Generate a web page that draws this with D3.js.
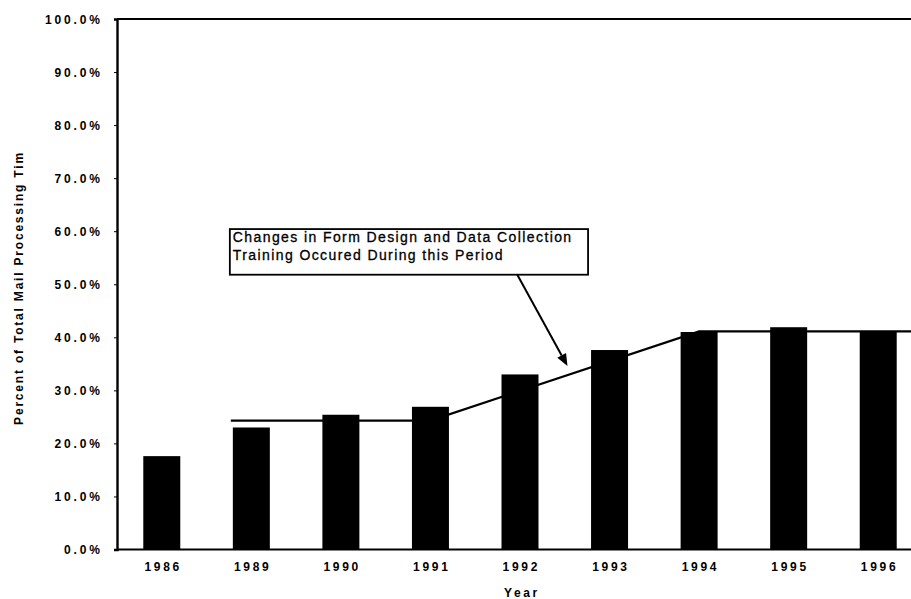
<!DOCTYPE html>
<html>
<head>
<meta charset="utf-8">
<script src="https://cdn.jsdelivr.net/npm/d3@7/dist/d3.min.js"></script>
<style>
  html, body { margin: 0; padding: 0; background: #fff; }
  svg { display: block; }
  text { font-family: "Liberation Sans", Arial, Helvetica, sans-serif; fill: #000; }
</style>
</head>
<body>
<svg id="chart" width="911" height="599"></svg>
<script>
// Share of total mail processing time, by survey year
const years = ["1986", "1989", "1990", "1991", "1992", "1993", "1994", "1995", "1996"];
const shares = [17.6, 23.0, 25.4, 26.9, 33.0, 37.6, 41.0, 41.9, 41.0];

// Trend overlay: flat, a rise across the change period, then flat again
const trendYears = ["1989", "1990", "1991", "1994", "1995", "1996"];
const trendValues = [24.3, 24.3, 24.3, 41.1, 41.1, 41.1];

const yTicks = [0, 10, 20, 30, 40, 50, 60, 70, 80, 90, 100];

const noteLines = ["Changes in Form Design and Data Collection", "Training Occured During this Period"];
// note box corners and arrow ends, in (category index, percent) units
const noteBox = { i0: 1.26, i1: 5.26, v0: 60.4, v1: 51.8 };
const noteArrow = { from: [4.47, 51.8], to: [5.03, 34.6] };

(function draw() {
  const svg = d3.select("#chart");
  const mLeft = 117, mRight = 923, mTop = 19, mBottom = 549.5;

  const x = d3.scaleBand().domain(years).range([mLeft, mRight])
    .paddingInner(0.587).paddingOuter(0.2935);
  const y = d3.scaleLinear().domain([0, 100]).range([mBottom, mTop]);
  // continuous position across categories (index 0 = first band start)
  const xi = d3.scaleLinear().domain([0, years.length]).range([mLeft, mRight]);

  // bars
  svg.append("g").selectAll("rect").data(years).join("rect")
    .attr("x", d => x(d))
    .attr("width", x.bandwidth())
    .attr("y", (d, i) => y(shares[i]))
    .attr("height", (d, i) => mBottom - y(shares[i]))
    .attr("fill", "#000");

  // trend line
  const trendPts = trendYears.map((yr, i) => [x(yr) + x.bandwidth() / 2, y(trendValues[i])]);
  trendPts.unshift([x(trendYears[0]) - 2, y(trendValues[0])]);
  trendPts.push([mRight, y(trendValues[trendValues.length - 1])]);
  svg.append("path")
    .attr("d", d3.line()(trendPts))
    .attr("fill", "none").attr("stroke", "#000").attr("stroke-width", 2.2);

  // frame lines: top border and base line
  svg.append("line").attr("x1", mLeft).attr("x2", mRight).attr("y1", mTop).attr("y2", mTop)
    .attr("stroke", "#000").attr("stroke-width", 2.2);
  svg.append("line").attr("x1", mLeft).attr("x2", mRight).attr("y1", mBottom).attr("y2", mBottom)
    .attr("stroke", "#000").attr("stroke-width", 2);

  // value axis
  const yAxis = d3.axisLeft(y).tickValues(yTicks).tickSize(3).tickPadding(14)
    .tickFormat(d => d3.format(".1f")(d) + "%");
  const gy = svg.append("g").attr("transform", `translate(${mLeft},0)`).call(yAxis);
  gy.select(".domain").attr("stroke", "#000").attr("stroke-width", 2.4);
  gy.selectAll(".tick line").attr("stroke", "#000");
  gy.selectAll(".tick text")
    .attr("font-size", 12).attr("font-weight", "bold")
    .style("letter-spacing", "2.8px")
    .attr("dx", "2.6px")
    .attr("dy", "0.36em");

  // category labels
  const xAxis = d3.axisBottom(x).tickSize(0).tickPadding(13);
  const gx = svg.append("g").attr("transform", `translate(0,${mBottom})`).call(xAxis);
  gx.select(".domain").remove();
  gx.selectAll(".tick text")
    .attr("font-size", 12).attr("font-weight", "bold")
    .style("letter-spacing", "2.7px")
    .attr("dx", "1.35px");

  // axis titles
  svg.append("text")
    .attr("x", 522).attr("y", 597)
    .attr("text-anchor", "middle")
    .attr("font-size", 12).attr("font-weight", "bold")
    .style("letter-spacing", "2.6px")
    .text("Year");

  svg.append("text")
    .attr("transform", "translate(23,288) rotate(-90)")
    .attr("text-anchor", "middle")
    .attr("font-size", 12).attr("font-weight", "bold")
    .style("letter-spacing", "1.8px")
    .text("Percent of Total Mail Processing Tim");

  // annotation box with arrow
  const bx0 = xi(noteBox.i0), bx1 = xi(noteBox.i1);
  const by0 = y(noteBox.v0), by1 = y(noteBox.v1);
  svg.append("rect")
    .attr("x", bx0).attr("y", by0)
    .attr("width", bx1 - bx0).attr("height", by1 - by0)
    .attr("fill", "#fff").attr("stroke", "#000").attr("stroke-width", 1.8);
  svg.append("g").selectAll("text").data(noteLines).join("text")
    .attr("x", bx0 + 3)
    .attr("y", (d, i) => by0 + 12.5 + i * 18)
    .attr("font-size", 14)
    .attr("stroke", "#000").attr("stroke-width", 0.3)
    .style("letter-spacing", "1.4px")
    .text(d => d);

  const ax0 = xi(noteArrow.from[0]), ay0 = y(noteArrow.from[1]);
  const ax1 = xi(noteArrow.to[0]), ay1 = y(noteArrow.to[1]);
  const ang = Math.atan2(ay1 - ay0, ax1 - ax0);
  const headLen = 12, headW = 5;
  const bxh = ax1 - headLen * Math.cos(ang), byh = ay1 - headLen * Math.sin(ang);
  svg.append("line")
    .attr("x1", ax0).attr("y1", ay0).attr("x2", bxh).attr("y2", byh)
    .attr("stroke", "#000").attr("stroke-width", 2);
  svg.append("path")
    .attr("d", d3.line()([
      [ax1, ay1],
      [bxh + headW * Math.sin(ang), byh - headW * Math.cos(ang)],
      [bxh - headW * Math.sin(ang), byh + headW * Math.cos(ang)]
    ]) + "Z")
    .attr("fill", "#000");
})();
</script>
</body>
</html>
